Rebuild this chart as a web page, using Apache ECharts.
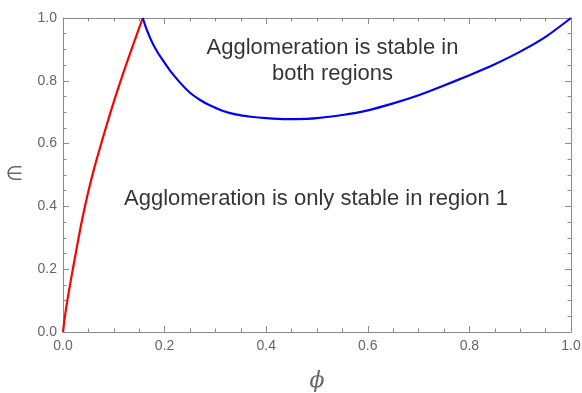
<!DOCTYPE html>
<html>
<head>
<meta charset="utf-8">
<script src="https://cdn.jsdelivr.net/npm/echarts@6/dist/echarts.min.js"></script>
<style>
  html, body { margin: 0; padding: 0; background: #fff; }
  #chart { width: 582px; height: 393px; }
</style>
</head>
<body>
<div id="chart"></div>
<script>
// Boundary where agglomeration becomes stable in region 1 only (red)
const redPhi = [0, 0.004, 0.009, 0.016, 0.025, 0.036, 0.048, 0.062, 0.077, 0.093, 0.109, 0.125, 0.141, 0.157];
const redEps = [0, 0.052, 0.105, 0.17, 0.25, 0.345, 0.435, 0.525, 0.61, 0.697, 0.778, 0.855, 0.928, 1.0];

// Boundary above which agglomeration is stable in both regions (blue)
const bluePhi = [0.157, 0.165, 0.175, 0.185, 0.195, 0.21, 0.23, 0.25, 0.27, 0.29, 0.315, 0.34, 0.37, 0.40, 0.44, 0.48, 0.50, 0.55, 0.60, 0.65, 0.70, 0.75, 0.80, 0.85, 0.90, 0.95, 1.0];
const blueEps = [1.0, 0.962, 0.924, 0.894, 0.869, 0.834, 0.795, 0.762, 0.739, 0.721, 0.704, 0.693, 0.6855, 0.681, 0.678, 0.679, 0.681, 0.691, 0.706, 0.728, 0.754, 0.785, 0.818, 0.853, 0.893, 0.94, 1.0];

// Region annotations
const notePhi = [0.5305, 0.498];
const noteEps = [0.864, 0.425];
const noteText = ['Agglomeration is stable in\nboth regions', 'Agglomeration is only stable in region 1'];

const tickLabels = ['0.0', '0.2', '0.4', '0.6', '0.8', '1.0'];

const zip = (a, b) => a.map((v, i) => [v, b[i]]);
const gray = '#8a8a8a';
const labelGray = '#666666';

function frameAxis(pos, showLabels, name) {
  return {
    type: 'value',
    position: pos,
    min: 0, max: 1, interval: 0.2,
    name: name || '',
    nameLocation: 'middle',
    axisLine: { show: true, onZero: false, lineStyle: { color: gray, width: 1 } },
    axisTick: { show: true, inside: true, length: 6, lineStyle: { color: gray } },
    minorTick: { show: true, splitNumber: 4, length: 3.5, lineStyle: { color: gray } },
    splitLine: { show: false },
    axisLabel: {
      show: showLabels,
      color: labelGray,
      fontSize: 14,
      fontFamily: 'Liberation Sans, Arial, sans-serif',
      formatter: v => tickLabels[Math.round(v * 5)]
    }
  };
}

const xBottom = frameAxis('bottom', true, 'ϕ');
xBottom.nameGap = 38;
xBottom.nameTextStyle = { color: labelGray, fontSize: 22, fontStyle: 'italic', fontFamily: 'DejaVu Serif, serif' };
xBottom.axisLabel.margin = 7;
const xTop = frameAxis('top', false);

const yLeft = frameAxis('left', true, '∈');
yLeft.nameGap = 40;
yLeft.nameRotate = 0;
yLeft.nameTextStyle = { color: labelGray, fontSize: 20, fontFamily: 'DejaVu Sans, sans-serif' };
yLeft.axisLabel.margin = 6;
const yRight = frameAxis('right', false);

const chart = echarts.init(document.getElementById('chart'));
chart.setOption({
  animation: false,
  grid: { left: 63, right: 11, top: 18, bottom: 61, containLabel: false, outerBoundsMode: 'none' },
  xAxis: [xBottom, xTop],
  yAxis: [yLeft, yRight],
  series: [
    {
      type: 'line',
      data: zip(redPhi, redEps),
      showSymbol: false, symbol: 'none',
      smooth: 0.25,
      lineStyle: { color: '#ff0000', width: 2.2 },
      z: 3
    },
    {
      type: 'line',
      data: zip(bluePhi, blueEps),
      showSymbol: false, symbol: 'none',
      smooth: 0.25,
      lineStyle: { color: '#0000ff', width: 2.2 },
      z: 4
    },
    {
      type: 'scatter',
      symbolSize: 0,
      silent: true,
      data: notePhi.map((p, i) => [p, noteEps[i], noteText[i]]),
      label: {
        show: true,
        position: 'inside',
        formatter: p => p.data[2],
        color: '#000000',
        textBorderWidth: 0,
        fontSize: 22,
        lineHeight: 26,
        align: 'center',
        fontFamily: 'Liberation Sans, Arial, sans-serif'
      }
    }
  ]
});
</script>
</body>
</html>
